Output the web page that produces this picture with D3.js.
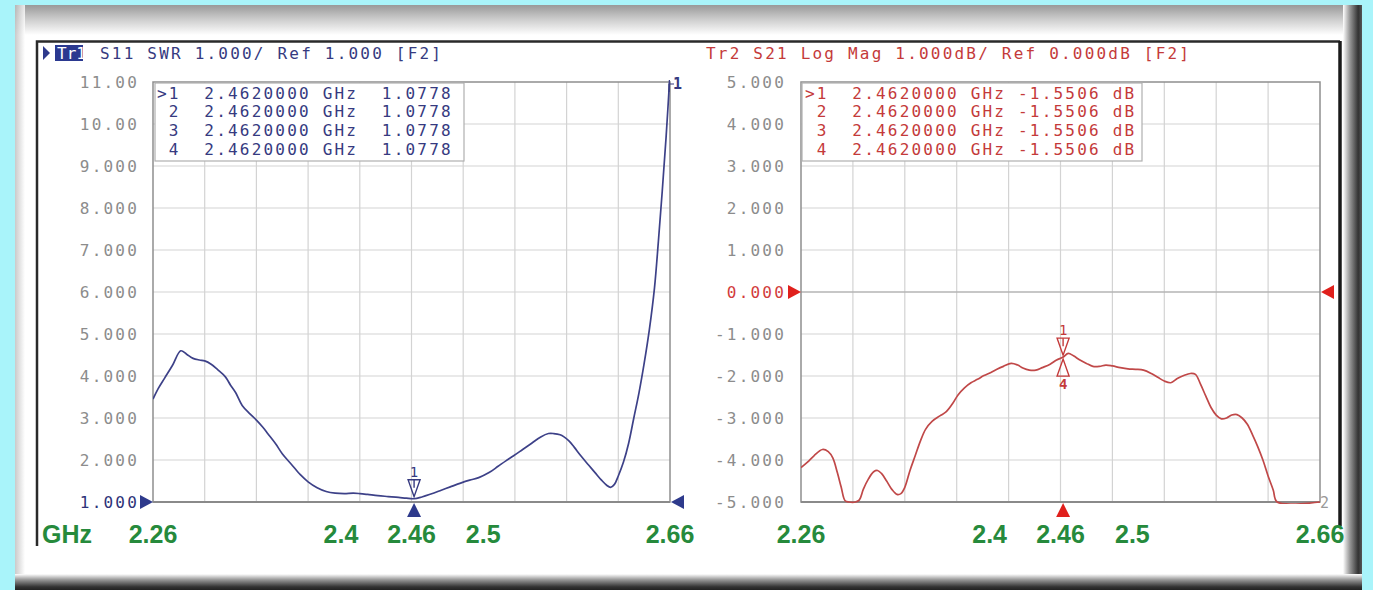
<!DOCTYPE html>
<html><head><meta charset="utf-8">
<script src="https://cdn.jsdelivr.net/npm/d3@7"></script>
<style>
html,body{margin:0;padding:0;background:#a9f4fa;overflow:hidden;}
svg{display:block;}
text.pre{white-space:pre;}
</style></head><body>
<svg id="c" width="1373" height="590"></svg>
<script>
// ---------- data ----------
const freqGrid = [2.26, 2.30, 2.34, 2.38, 2.42, 2.46, 2.50, 2.54, 2.58, 2.62, 2.66];
const freqLabels = [2.26, 2.4, 2.46, 2.5, 2.66];
const freqUnit = "GHz";
const swrTicks = [11, 10, 9, 8, 7, 6, 5, 4, 3, 2, 1];
const swrTickLabels = ["11.00","10.00","9.000","8.000","7.000","6.000","5.000","4.000","3.000","2.000","1.000"];
const dbTicks = [5, 4, 3, 2, 1, 0, -1, -2, -3, -4, -5];
const dbTickLabels = ["5.000","4.000","3.000","2.000","1.000","0.000","-1.000","-2.000","-3.000","-4.000","-5.000"];

const swrFreq = [2.260,2.264,2.269,2.275,2.2815,2.286,2.291,2.296,2.300,2.305,2.310,2.316,2.320,2.324,2.329,2.335,2.340,2.345,2.349,2.355,2.360,2.367,2.374,2.380,2.387,2.394,2.401,2.408,2.415,2.420,2.426,2.434,2.442,2.450,2.456,2.462,2.468,2.475,2.483,2.490,2.498,2.505,2.512,2.520,2.527,2.533,2.539,2.546,2.553,2.560,2.566,2.570,2.575,2.578,2.582,2.586,2.591,2.597,2.602,2.607,2.611,2.614,2.617,2.620,2.624,2.628,2.632,2.636,2.640,2.644,2.648,2.651,2.654,2.657,2.660];
const swrVal = [3.45,3.70,3.95,4.25,4.60,4.52,4.42,4.38,4.36,4.28,4.15,3.98,3.78,3.60,3.30,3.10,2.95,2.78,2.62,2.38,2.15,1.90,1.65,1.48,1.34,1.25,1.21,1.20,1.21,1.20,1.18,1.15,1.13,1.11,1.09,1.078,1.12,1.19,1.28,1.36,1.45,1.52,1.58,1.70,1.85,1.98,2.10,2.25,2.40,2.55,2.63,2.63,2.60,2.55,2.45,2.30,2.10,1.88,1.70,1.52,1.40,1.35,1.42,1.62,1.95,2.40,3.00,3.60,4.30,5.10,6.10,7.20,8.40,9.70,11.2];

const s21Freq = [2.260,2.265,2.270,2.2765,2.281,2.2845,2.288,2.291,2.294,2.297,2.302,2.305,2.308,2.312,2.316,2.319,2.322,2.326,2.330,2.334,2.337,2.340,2.344,2.348,2.352,2.356,2.361,2.367,2.372,2.377,2.381,2.386,2.391,2.396,2.401,2.406,2.411,2.416,2.422,2.427,2.431,2.436,2.441,2.446,2.452,2.457,2.462,2.466,2.470,2.475,2.480,2.485,2.490,2.495,2.500,2.506,2.512,2.518,2.524,2.530,2.535,2.540,2.545,2.550,2.555,2.560,2.564,2.568,2.572,2.576,2.580,2.584,2.588,2.592,2.596,2.600,2.604,2.608,2.612,2.616,2.620,2.624,2.627,2.660];
const s21Val = [-4.18,-4.05,-3.90,-3.75,-3.80,-3.95,-4.30,-4.65,-4.97,-5.00,-5.00,-4.95,-4.70,-4.45,-4.28,-4.25,-4.32,-4.50,-4.70,-4.82,-4.80,-4.65,-4.25,-3.90,-3.55,-3.27,-3.08,-2.95,-2.85,-2.65,-2.45,-2.28,-2.16,-2.08,-1.99,-1.92,-1.84,-1.77,-1.70,-1.74,-1.81,-1.86,-1.86,-1.80,-1.72,-1.62,-1.55,-1.46,-1.52,-1.62,-1.70,-1.77,-1.77,-1.74,-1.76,-1.80,-1.83,-1.84,-1.86,-1.94,-2.03,-2.12,-2.16,-2.06,-1.99,-1.94,-1.96,-2.20,-2.48,-2.75,-2.93,-3.02,-3.00,-2.93,-2.92,-3.00,-3.15,-3.40,-3.68,-4.00,-4.38,-4.72,-5.00,-5.00];

const markerFreq = 2.462;
const swrMarkerVal = 1.0778;
const s21MarkerVal = -1.5506;
const markerIds = [">1", " 2", " 3", " 4"];
const markerFreqText = "2.4620000 GHz";
const swrMarkerText = " 1.0778";
const s21MarkerText = "-1.5506 dB";
const header1 = ["Tr1", "S11 SWR 1.000/ Ref 1.000 [F2]"];
const header2 = "Tr2 S21 Log Mag 1.000dB/ Ref 0.000dB [F2]";

// label nudges (layout only)
const labelDx = { "2.4": 7, "2.5": 20 };

// ---------- setup ----------
const svg = d3.select("#c");
const defs = svg.append("defs");
function lin(id, x1, y1, x2, y2, stops) {
  const g = defs.append("linearGradient").attr("id", id)
    .attr("x1", x1).attr("y1", y1).attr("x2", x2).attr("y2", y2);
  stops.forEach(s => g.append("stop").attr("offset", s[0]).attr("stop-color", s[1]));
}
lin("gTop", 0, 0, 0, 1, [[0, "#999"], [0.5, "#cfcfcf"], [1, "#fff"]]);
lin("gLeft", 0, 0, 1, 0, [[0, "#bdbdbd"], [1, "#fff"]]);
lin("gRight", 0, 0, 1, 0, [[0, "#fff"], [0.35, "#9a9a9a"], [0.8, "#333"], [1, "#555"]]);
lin("gBot", 0, 0, 0, 1, [[0, "#fff"], [0.35, "#999"], [0.8, "#333"], [1, "#222"]]);

// outer panel
svg.append("rect").attr("x", 15).attr("y", 5).attr("width", 1347).attr("height", 585).attr("fill", "#fff");
svg.append("rect").attr("x", 15).attr("y", 5).attr("width", 1347).attr("height", 30).attr("fill", "url(#gTop)");
svg.append("rect").attr("x", 15).attr("y", 5).attr("width", 10).attr("height", 585).attr("fill", "url(#gLeft)").attr("opacity", 0.8);
svg.append("rect").attr("x", 1343).attr("y", 5).attr("width", 19).attr("height", 585).attr("fill", "url(#gRight)");
svg.append("rect").attr("x", 15).attr("y", 574).attr("width", 1347).attr("height", 16).attr("fill", "url(#gBot)");

// inner black frame
svg.append("path").attr("d", "M37,546 V41.5 H1340").attr("fill", "none").attr("stroke", "#2a2a2a").attr("stroke-width", 2.5);
svg.append("path").attr("d", "M1340,41 V526").attr("fill", "none").attr("stroke", "#1a1a1a").attr("stroke-width", 3.5);

const mono = "'DejaVu Sans Mono', monospace";
const fs = 16, ls = 2.2;

function panel(cfg) {
  const { x0, x1, y0, y1, yDomain, ticks, tickLabels, refVal, refColor, tickX } = cfg;
  const x = d3.scaleLinear().domain([2.26, 2.66]).range([x0, x1]);
  const y = d3.scaleLinear().domain(yDomain).range([y1, y0]);
  const g = svg.append("g");
  g.selectAll(".vg").data(freqGrid.slice(1, -1)).join("line")
    .attr("x1", d => x(d)).attr("x2", d => x(d)).attr("y1", y0).attr("y2", y1)
    .attr("stroke", "#d3d3d3").attr("stroke-width", 1.2);
  g.selectAll(".hg").data(ticks.slice(1, -1)).join("line")
    .attr("x1", x0).attr("x2", x1).attr("y1", d => y(d)).attr("y2", d => y(d))
    .attr("stroke", d => d === refVal ? "#b5b5b5" : "#d3d3d3").attr("stroke-width", d => d === refVal ? 1.6 : 1.2);
  g.append("rect").attr("x", x0).attr("y", y0).attr("width", x1 - x0).attr("height", y1 - y0)
    .attr("fill", "none").attr("stroke", "#8f8f8f").attr("stroke-width", 1.5);
  g.append("line").attr("x1", x0).attr("x2", x1).attr("y1", y1).attr("y2", y1)
    .attr("stroke", "#8a8a8a").attr("stroke-width", 2.2);
  g.selectAll(".tl").data(ticks).join("text")
    .attr("x", tickX).attr("y", d => y(d)).attr("dy", "0.36em")
    .attr("text-anchor", "end").attr("font-family", mono).attr("font-size", fs)
    .attr("letter-spacing", ls)
    .attr("fill", d => d === refVal ? refColor : "#8c8c8c")
    .text((d, i) => tickLabels[i]);
  return { x, y, g };
}

const L = panel({ x0: 153, x1: 670, y0: 82, y1: 502, yDomain: [1, 11], ticks: swrTicks, tickLabels: swrTickLabels,
  refVal: 1, refColor: "#2e3278", tickX: 139 });
const R = panel({ x0: 801, x1: 1320, y0: 82, y1: 502, yDomain: [-5, 5], ticks: dbTicks, tickLabels: dbTickLabels,
  refVal: 0, refColor: "#d23b3b", tickX: 786 });

// marker tables
function table(x0, w, tx, color, valText) {
  const g = svg.append("g");
  g.append("rect").attr("x", x0).attr("y", 83).attr("width", w).attr("height", 78)
    .attr("fill", "#fff").attr("stroke", "#b0b0b0").attr("stroke-width", 1.2);
  const rowsY = [99, 117, 136, 155];
  g.selectAll("text").data(markerIds).join("text").attr("class", "pre")
    .attr("x", tx).attr("y", (d, i) => rowsY[i])
    .attr("font-family", mono).attr("font-size", fs).attr("letter-spacing", ls).attr("fill", color)
    .text(d => `${d}  ${markerFreqText} ${valText}`);
}
table(155, 309, 157, "#363a80", swrMarkerText);
table(802, 340, 805, "#c43a3a", s21MarkerText);

// headers
svg.append("path").attr("d", "M43,46 L50,53 L43,60 Z").attr("fill", "#2e3a8c");
svg.append("rect").attr("x", 55).attr("y", 45).attr("width", 28).attr("height", 16).attr("fill", "#2b3990");
svg.append("text").attr("x", 57).attr("y", 59).attr("font-family", mono).attr("font-size", fs).attr("letter-spacing", 0)
  .attr("fill", "#fff").text(header1[0]);
svg.append("text").attr("x", 100).attr("y", 59).attr("font-family", mono).attr("font-size", fs).attr("letter-spacing", ls)
  .attr("fill", "#363a80").text(header1[1]);
svg.append("text").attr("x", 706).attr("y", 59).attr("font-family", mono).attr("font-size", fs).attr("letter-spacing", ls)
  .attr("fill", "#c43a3a").text(header2);

// traces
function trace(P, fr, vals, color, id, x0, x1) {
  defs.append("clipPath").attr("id", id).append("rect").attr("x", x0).attr("y", 80).attr("width", x1 - x0).attr("height", 424);
  const line = d3.line().x((d, i) => P.x(fr[i])).y(d => P.y(d)).curve(d3.curveCatmullRom.alpha(0.5));
  svg.append("path").attr("d", line(vals)).attr("clip-path", `url(#${id})`)
    .attr("fill", "none").attr("stroke", color).attr("stroke-width", 1.7);
}
trace(L, swrFreq, swrVal, "#3d4188", "clipL", 153, 670);
trace(R, s21Freq, s21Val, "#c04848", "clipR", 801, 1320);

// markers
function markerDown(P, v, color, label) {
  const mx = P.x(markerFreq), my = P.y(v);
  svg.append("path").attr("d", `M${mx - 6},${my - 19} L${mx + 6},${my - 19} L${mx},${my - 2} Z`)
    .attr("fill", "none").attr("stroke", color).attr("stroke-width", 1.4);
  svg.append("line").attr("x1", mx).attr("x2", mx).attr("y1", my - 19).attr("y2", my - 11).attr("stroke", color).attr("stroke-width", 1.4);
  svg.append("text").attr("x", mx).attr("y", my - 22).attr("text-anchor", "middle").attr("font-family", mono)
    .attr("font-size", 14).attr("fill", color).text(label);
}
markerDown(L, swrMarkerVal, "#363a80", "1");
markerDown(R, s21MarkerVal, "#c43a3a", "1");
{
  const mx = R.x(markerFreq), my = R.y(s21MarkerVal);
  svg.append("path").attr("d", `M${mx - 6},${my + 19} L${mx + 6},${my + 19} L${mx},${my + 2} Z`)
    .attr("fill", "none").attr("stroke", "#c43a3a").attr("stroke-width", 1.4);
  svg.append("text").attr("x", mx).attr("y", my + 32).attr("text-anchor", "middle").attr("font-family", mono)
    .attr("font-weight", "bold").attr("font-size", 14).attr("fill", "#c43a3a").text("4");
}

// axis triangles
function tri(cx, cy, dir, color) {
  const s = 7;
  let d;
  if (dir === "up") d = `M${cx - s},${cy + s} L${cx + s},${cy + s} L${cx},${cy - s} Z`;
  if (dir === "right") d = `M${cx - s},${cy - s} L${cx - s},${cy + s} L${cx + s - 1},${cy} Z`;
  if (dir === "left") d = `M${cx + s},${cy - s} L${cx + s},${cy + s} L${cx - s + 1},${cy} Z`;
  svg.append("path").attr("d", d).attr("fill", color);
}
tri(L.x(markerFreq), 510, "up", "#2e3a8c");
tri(147, L.y(1), "right", "#2e3a8c");
tri(677, L.y(1), "left", "#2e3a8c");
tri(R.x(markerFreq), 510, "up", "#e0201c");
tri(795, R.y(0), "right", "#e0201c");
tri(1327, R.y(0), "left", "#e0201c");

// trace end labels
svg.append("path").attr("d", "M669,92 V84 H674").attr("fill", "none").attr("stroke", "#363a80").attr("stroke-width", 1.2);
svg.append("text").attr("x", 673).attr("y", 89).attr("font-family", mono).attr("font-size", 15).attr("font-weight", "bold").attr("fill", "#363a80").text("1");
svg.append("text").attr("x", 1320).attr("y", 508).attr("font-family", mono).attr("font-size", 15).attr("fill", "#999").text("2");

// green frequency labels
const green = "#268a3c";
[L, R].forEach(P => {
  svg.selectAll(null).data(freqLabels).join("text")
    .attr("x", d => P.x(d) + (labelDx[String(d)] || 0)).attr("y", 543).attr("text-anchor", "middle")
    .attr("font-family", "'Liberation Sans', Arial, sans-serif").attr("font-weight", "bold")
    .attr("font-size", 25).attr("fill", green).text(d => d);
});
svg.append("text").attr("x", 42).attr("y", 543).attr("font-family", "'Liberation Sans', Arial, sans-serif")
  .attr("font-weight", "bold").attr("font-size", 25).attr("fill", green).text(freqUnit);
</script>
</body></html>
